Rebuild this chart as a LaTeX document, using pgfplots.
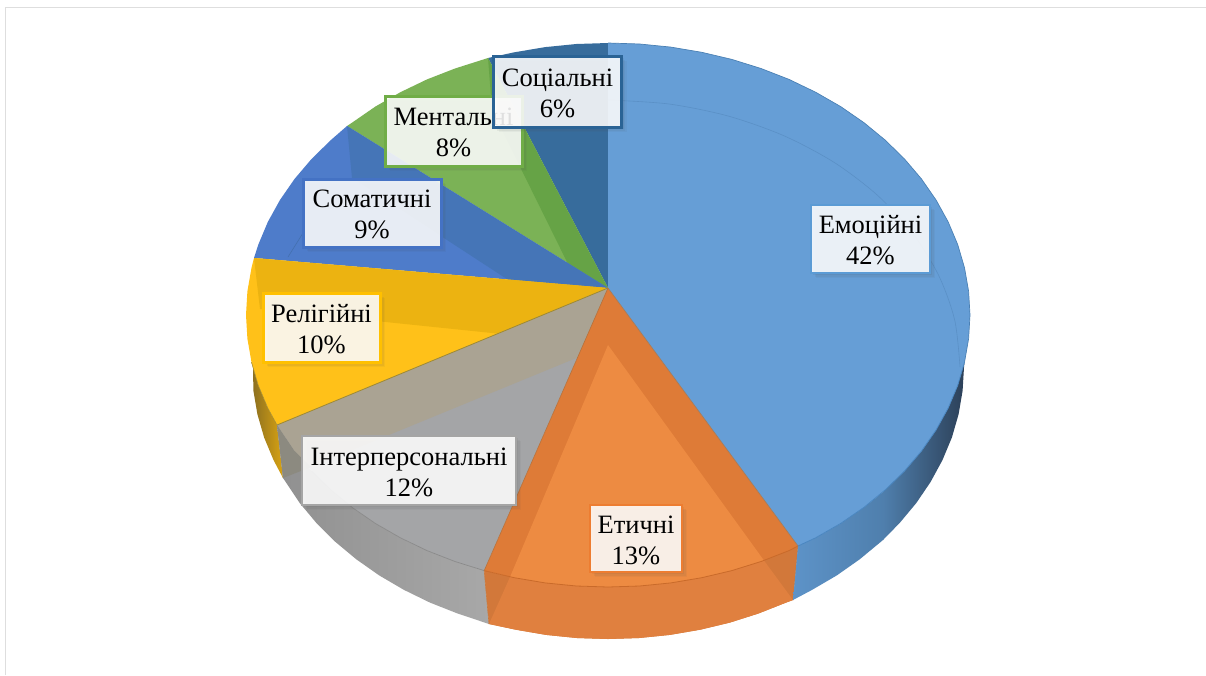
\documentclass[border=0pt]{standalone}
\usepackage{pgfplots}
\pgfplotsset{compat=1.18}
\usepackage{fontspec}
\setmainfont{Liberation Serif}
\usetikzlibrary{shadows}
\newcommand\dc[1]{\definecolor{c#1}{HTML}{#1}}
\dc{376C9C}\dc{7BB256}\dc{66A346}\dc{4E7CCA}\dc{4575B7}\dc{4470B0}\dc{8A6E20}\dc{D9A312}\dc{FFC119}\dc{ECB311}
\dc{909090}\dc{A8A8A8}\dc{A4A5A7}\dc{AAA393}\dc{8C8A80}\dc{8A8A8A}\dc{A08A30}\dc{D2783A}\dc{E0803F}\dc{DE7B37}\dc{ED8B42}
\dc{C96A2A}\dc{B5713C}\dc{C9783C}\dc{5D93C8}\dc{4F7FAD}\dc{2C4058}\dc{669ED6}\dc{5A90C6}\dc{4A80B4}\dc{4A86C0}\dc{A87A55}
\dc{5B9BD5}\dc{ED7D31}\dc{A5A5A5}\dc{FFC000}\dc{4472C4}\dc{70AD47}\dc{2A6395}
\newcommand\poly[2]{\addplot[draw=none,#1] coordinates {#2} --cycle;}
\newcommand\labelbox[7]{\node[anchor=center,inner sep=0pt,outer sep=0pt,
  minimum width=#3pt,minimum height=#4pt,draw=#5,line width=#6pt,fill=white,fill opacity=.87,
  drop shadow={shadow xshift=2pt,shadow yshift=-2pt,opacity=.08,fill=black!70},
  drop shadow={shadow xshift=3.5pt,shadow yshift=-3.5pt,opacity=.07,fill=black!70},
  drop shadow={shadow xshift=5pt,shadow yshift=-5pt,opacity=.05,fill=black!70}] at (axis cs:#1,#2) {};
  \node[anchor=center,inner sep=0pt,align=center,yshift=-1.5pt,
  font=\fontsize{26.5}{31}\selectfont,text=black] at (axis cs:#1,#2) {#7};}
\begin{document}
\begin{tikzpicture}
\begin{axis}[scale only axis,width=1206pt,height=675pt,xmin=0,xmax=1206,ymin=0,ymax=675,y dir=reverse,
  hide axis,clip=true]
\poly{fill=white}{(0,0)(1206,0)(1206,675)(0,675)}
\addplot[color=black!13,line width=1pt] coordinates {(5.5,675)(5.5,7)(1206,7)};
% Social, top face
\poly{fill=c376C9C}{(608,288)(488,58)(514.3,52.3)(545.2,47.1)(576.4,44)(608,43)}
% Mental
\poly{fill=c7BB256}{(608,288)(347,126)(352,122.7)(375.3,106.6)(400.4,92.2)(427,79.4)(455,68.5)(488,58)}
\poly{fill=c66A346}{(608,288)(488,58)(492,110)(608,345)}
% Somatic
\poly{fill=c4E7CCA}{(608,288)(254,258)(258.3,244.6)(267.8,222)(279.9,200.1)(294.5,179)(311.5,159)(330.7,140.2)(347,126)}
\poly{fill=c4575B7}{(608,288)(347,126)(352,178)(608,345)}
\addplot[color=c4470B0,line width=.6pt] coordinates {(288,257)(303,233)};
% Religious side and top
\poly{left color=c8A6E20,right color=cD9A312}{(277,425)(267.8,408)(258.3,385.4)(251.5,362.2)(253,367)(253.4,390.7)(257.4,414.2)(264.1,437.4)(273.5,460)(283,478)}
\poly{fill=cFFC119}{(608,288)(277,425)(267.8,408)(258.3,385.4)(251.5,362.2)(247.4,338.7)(246,315)(247.4,291.3)(251.5,267.8)(254,258)}
\poly{fill=cECB311}{(608,288)(254,258)(260,309)(608,345)}
% Interpersonal side and top
\poly{left color=c909090,right color=cA8A8A8}{(277,425)(294.5,451)(311.5,471)(330.7,489.8)(352,507.3)(375.3,523.4)(400.4,537.8)(427,550.6)(455,561.5)(484.2,570.6)(489,624)(457.6,613.5)(430,602.6)(403.8,589.8)(379.2,575.4)(356.3,559.3)(335.3,541.8)(316.4,523)(299.7,503)(283,478)}
\poly{fill=cA4A5A7}{(608,288)(484.2,570.6)(455,561.5)(427,550.6)(400.4,537.8)(375.3,523.4)(352,507.3)(330.7,489.8)(311.5,471)(294.5,451)(277,425)}
\poly{fill=cAAA393}{(608,288)(277,425)(294.5,451)(311,467)(608,345)}
\poly{fill=c8C8A80}{(277,425)(283,478)(311,467)(294.5,451)}
\addplot[color=c8A8A8A,line width=.7pt] coordinates {(311.5,471)(330.7,489.8)(352,507.3)(375.3,523.4)(400.4,537.8)(427,550.6)(455,561.5)(484.2,570.6)};
\addplot[color=cA08A30,line width=.8pt] coordinates {(608,288)(277,425)};
\addplot[color=cA08A30,line width=.5pt] coordinates {(277,425)(267.8,408)(258.3,385.4)(251.5,362.2)};
% Ethical side and top
\poly{fill=cD2783A}{(484.2,570.6)(514.3,577.7)(545.2,582.9)(576.4,586)(608,587)(639.6,586)(670.8,582.9)(701.7,577.7)(731.8,570.6)(761,561.5)(798,546)(793,600)(786,602.6)(758.4,613.5)(729.8,622.6)(700.1,629.7)(669.8,634.9)(639,638)(608,639)(577,638)(546.2,634.9)(515.9,629.7)(489,624)}
\poly{fill=cE0803F}{(764,560.5)(731.8,570.6)(701.7,577.7)(670.8,582.9)(639.6,586)(608,587)(576.4,586)(545.2,582.9)(510,577)(489,624)(515.9,629.7)(546.2,634.9)(577,638)(608,639)(639,638)(669.8,634.9)(700.1,629.7)(729.8,622.6)(758.4,613.5)(786,602.6)(793,600)}
\poly{fill=cDE7B37}{(608,288)(798,546)(789,550.6)(761,561.5)(731.8,570.6)(701.7,577.7)(670.8,582.9)(639.6,586)(608,587)(576.4,586)(545.2,582.9)(514.3,577.7)(484.2,570.6)}
\poly{fill=cED8B42}{(608,345)(764,560.5)(731.8,570.6)(701.7,577.7)(670.8,582.9)(639.6,586)(608,587)(576.4,586)(545.2,582.9)(510,577)}
\addplot[color=cC96A2A,line width=.8pt] coordinates {(798,546)(789,550.6)(761,561.5)(731.8,570.6)(701.7,577.7)(670.8,582.9)(639.6,586)(608,587)(576.4,586)(545.2,582.9)(514.3,577.7)(484.2,570.6)};
\addplot[color=cB5713C,line width=.6pt] coordinates {(608,288)(484.2,570.6)};
\addplot[color=cC9783C,line width=.6pt] coordinates {(484.2,570.6)(489,624)};
\addplot[color=cC9783C,line width=.6pt] coordinates {(798,546)(793,600)};
% Emotional side and top
\poly{left color=c5D93C8,right color=c4F7FAD}{(798,546)(815.6,537.8)(840.7,523.4)(864,507.3)(883,492)(883,540)(859.7,559.3)(836.8,575.4)(812.2,589.8)(793,600)}
\poly{left color=c4F7FAD,right color=c2C4058}{(883,492)(904.5,471)(921.5,451)(936.1,429.9)(948.2,408)(957.7,385.4)(964.5,362.2)(964,367)(962.6,390.7)(958.6,414.2)(951.9,437.4)(942.5,460)(930.6,481.9)(916.3,503)(899.6,523)(883,540)}
\poly{fill=c669ED6}{(608,288)(608,43)(639.6,44)(670.8,47.1)(701.7,52.3)(731.8,59.4)(761,68.5)(789,79.4)(815.6,92.2)(840.7,106.6)(864,122.7)(885.3,140.2)(904.5,159)(921.5,179)(936.1,200.1)(948.2,222)(957.7,244.6)(964.5,267.8)(968.6,291.3)(970,315)(968.6,338.7)(964.5,362.2)(957.7,385.4)(948.2,408)(936.1,429.9)(921.5,451)(904.5,471)(885.3,489.8)(864,507.3)(840.7,523.4)(815.6,537.8)(798,546)}
\addplot[color=c5A90C6,line width=.6pt,smooth] coordinates {(608,100)(669,104)(728.4,116.1)(784,135.8)(834.3,162.5)(877.6,195.4)(912.8,233.5)(938.8,275.7)(954.7,320.1)(960,367)};
\addplot[color=c4A80B4,line width=.7pt] coordinates {(608,43)(639.6,44)(670.8,47.1)(701.7,52.3)(731.8,59.4)(761,68.5)(789,79.4)(815.6,92.2)(840.7,106.6)(864,122.7)(885.3,140.2)(904.5,159)(921.5,179)(936.1,200.1)(948.2,222)(957.7,244.6)(964.5,267.8)(968.6,291.3)(970,315)(968.6,338.7)(964.5,362.2)};
\addplot[color=c4A86C0,line width=.8pt] coordinates {(964.5,362.2)(957.7,385.4)(948.2,408)(936.1,429.9)(921.5,451)(904.5,471)(885.3,489.8)(864,507.3)(840.7,523.4)(815.6,537.8)(798,546)};
\addplot[color=cA87A55,line width=.7pt] coordinates {(608,288)(798,546)};
% Labels
\labelbox{870.5}{239}{119}{68}{c5B9BD5}{2.5}{Емоційні\\42\%}
\labelbox{636}{538.5}{92}{67}{cED7D31}{1.5}{Етичні\\13\%}
\labelbox{409}{470.5}{214}{69}{cA5A5A5}{2.5}{Інтерперсональні\\12\%}
\labelbox{321.5}{327.5}{117}{69}{cFFC000}{3}{Релігійні\\10\%}
\labelbox{372}{213}{138}{68}{c4472C4}{3}{Соматичні\\9\%}
\labelbox{453.5}{131}{137}{70}{c70AD47}{3}{Ментальні\\8\%}
\labelbox{557.5}{91.5}{128}{71}{c2A6395}{3}{Соціальні\\6\%}
\end{axis}
\end{tikzpicture}
\end{document}
